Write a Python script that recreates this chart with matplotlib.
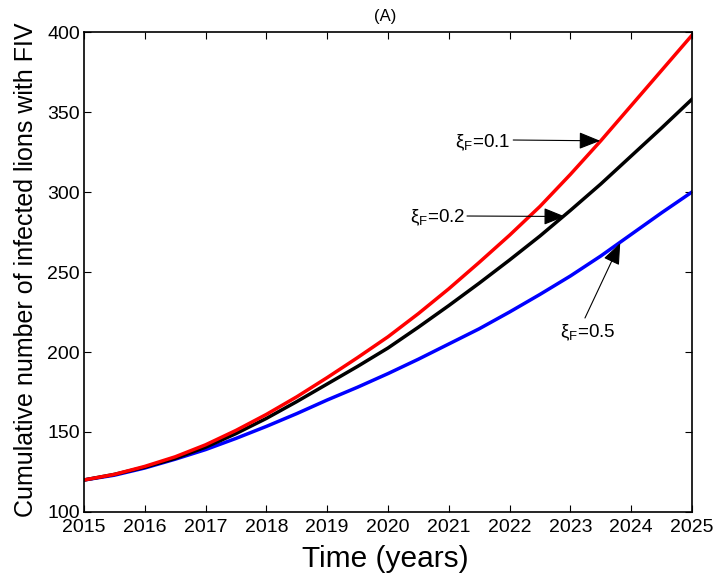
import matplotlib
matplotlib.use("Agg")
import matplotlib.pyplot as plt

plt.rcParams['font.family'] = ['Liberation Sans', 'DejaVu Sans']
plt.rcParams['mathtext.fontset'] = 'custom'
plt.rcParams['mathtext.rm'] = 'Liberation Sans'
plt.rcParams['mathtext.it'] = 'Liberation Sans:italic'

# years (half-year steps)
years = [2015, 2015.5, 2016, 2016.5, 2017, 2017.5, 2018, 2018.5, 2019, 2019.5,
         2020, 2020.5, 2021, 2021.5, 2022, 2022.5, 2023, 2023.5, 2024, 2024.5, 2025]
xi_01 = [120, 123.5, 128.5, 134.5, 142, 151, 161, 172, 184, 196.5,
         209.5, 224, 239.5, 256, 273, 291, 311, 332, 354, 376, 398]
xi_02 = [120, 123.5, 128, 133.5, 140.5, 149, 158.5, 169, 180, 191,
         202.5, 215.5, 229, 243, 257.5, 272.5, 288.5, 305, 322.5, 340, 358]
xi_05 = [120, 123, 127.5, 133, 139, 146, 153.5, 161.5, 170, 178,
         186.5, 195.5, 205, 214.5, 225, 236, 247.5, 260, 273.5, 287, 300]

fig = plt.figure(figsize=(7.13, 5.78), dpi=100)
ax = fig.add_axes([0.1178, 0.1142, 0.8527, 0.8304])

ax.plot(years, xi_05, color='blue', lw=2.5)
ax.plot(years, xi_02, color='black', lw=2.5)
ax.plot(years, xi_01, color='red', lw=2.5)

ax.set_xlim(2015, 2025)
ax.set_ylim(100, 400)
ax.set_xticks(range(2015, 2026))
ax.set_yticks(range(100, 401, 50))
ax.tick_params(direction='in', top=True, right=True, length=5, width=0.8, labelsize=14)
ax.tick_params(axis='x', pad=5)
ax.tick_params(axis='y', pad=3)
for s in ax.spines.values():
    s.set_linewidth(1.2)

fig.text(385.5 / 713, 1 - 20.5 / 578, '(A)', fontsize=12, ha='center', va='baseline')
fig.text(385 / 713, 1 - 567 / 578, 'Time (years)', fontsize=21.5, ha='center', va='baseline')
fig.text(26 / 713, 1 - 270 / 578, 'Cumulative number of infected lions with FIV',
         fontsize=18, rotation=90, ha='center', va='center')

arrow = dict(arrowstyle='-|>,head_length=0.6,head_width=0.24', color='black',
             lw=0.8, mutation_scale=22, shrinkA=0, shrinkB=0)
ax.annotate('', xy=(2023.49, 332), xytext=(2022.06, 332.5), arrowprops=arrow)
ax.annotate('', xy=(2022.91, 284.7), xytext=(2021.30, 285), arrowprops=arrow)
ax.annotate('', xy=(2023.82, 268.1), xytext=(2023.24, 221.25), arrowprops=arrow)

ax.text(2021.1, 328, r'ξ$_\mathrm{F}$=0.1', fontsize=13.5, va='baseline', ha='left')
ax.text(2020.36, 281, r'ξ$_\mathrm{F}$=0.2', fontsize=13.5, va='baseline', ha='left')
ax.text(2022.83, 209, r'ξ$_\mathrm{F}$=0.5', fontsize=13.5, va='baseline', ha='left')

fig.savefig('out.png', dpi=100)
